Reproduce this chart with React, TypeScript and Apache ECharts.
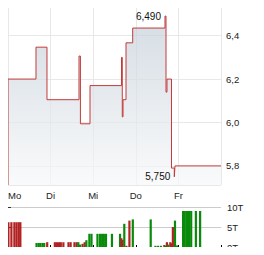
import React, { useEffect, useRef } from "react";
import * as echarts from "echarts";

// Price step series (x in trading days from Monday open, y price)
const priceTimes = [0, 0, 0.657, 0.915, 1.667, 1.70, 1.925, 2.664, 2.683, 2.70, 2.77, 2.927, 3.685, 3.709, 3.732, 3.838, 3.904, 3.92, 5.0];
const priceValues = [5.712, 6.2, 6.347, 6.105, 6.306, 5.994, 6.17, 6.30, 6.026, 6.105, 6.367, 6.435, 6.49, 6.14, 6.2, 5.79, 5.75, 5.8, 5.8];
const dayLabels = ["Mo", "Di", "Mi", "Do", "Fr", ""];
const maxPoint = { t: 3.685, v: 6.49, label: "6,490" };
const minPoint = { t: 3.904, v: 5.75, label: "5,750" };

// Volume bars (thousands), up = green, down = red
const volTimes = [0.01, 0.08, 0.15, 0.2, 0.25, 0.29, 0.67, 0.72, 0.76, 0.81, 0.85, 0.92, 1.1, 1.15, 1.2, 1.24, 1.3, 1.42, 1.47, 1.56, 1.61, 1.65, 1.69, 1.75, 1.8, 1.84, 1.91, 1.96, 2.1, 2.16, 2.21, 2.25, 2.3, 2.44, 2.63, 2.66, 2.69, 2.73, 2.78, 2.85, 2.93, 3.35, 3.46, 3.52, 3.59, 3.67, 3.69, 3.73, 3.76, 3.81, 3.85, 3.87, 3.92, 3.97, 4.11, 4.15, 4.2, 4.25, 4.3, 4.41, 4.51];
const volValues = [6.2, 6.2, 6.2, 6.2, 6.2, 6.2, 1, 1, 1, 1, 1, 1.2, 1.2, 1.2, 1.2, 1.2, 1.2, 1.2, 1.2, 1.2, 1.2, 1.2, 0.6, 0.8, 1.2, 1.7, 3.3, 3.3, 3.3, 3.3, 3.3, 3.3, 3.3, 3.3, 3.3, 2.2, 1.8, 5.8, 0.3, 6.6, 6.9, 6.9, 0.3, 0.3, 0.3, 0.5, 0.3, 1.2, 0.6, 1.2, 0.9, 5.0, 6.6, 0.4, 9, 9, 9, 9, 9, 9, 9];
const volUp = [0, 0, 0, 0, 0, 0, 1, 1, 1, 1, 1, 0, 0, 0, 0, 0, 0, 0, 0, 0, 0, 1, 1, 0, 0, 1, 1, 1, 1, 1, 1, 1, 1, 1, 1, 0, 0, 1, 0, 0, 1, 1, 1, 1, 1, 0, 1, 0, 1, 0, 0, 0, 1, 1, 1, 1, 1, 1, 1, 1, 1];
const volTicks = ["0T", "5T", "10T"];

const RED = "#c23b3b";
const GREEN = "#0a8a0a";
const BAR_RED = "#b22222";
const FONT = "Liberation Sans, Arial, sans-serif";

export default function App() {
  const ref = useRef<HTMLDivElement>(null);
  useEffect(() => {
    if (!ref.current) return;
    const chart = echarts.init(ref.current, undefined, { renderer: "svg" });
    const fmt = (v: number) => v.toFixed(1).replace(".", ",");
    chart.setOption({
      animation: false,
      textStyle: { fontFamily: FONT },
      grid: [
        { left: 8, top: 7, width: 213, height: 178 },
        { left: 8, top: 207, width: 213, height: 40 },
      ],
      xAxis: [
        {
          type: "value", gridIndex: 0, min: 0, max: 5, interval: 1,
          axisLine: { show: false }, axisTick: { show: false },
          splitLine: { show: true, lineStyle: { color: "#e8e8e8", width: 1 } },
          axisLabel: {
            color: "#222", fontSize: 9.5, margin: 5, fontFamily: FONT, alignMinLabel: "left",
            formatter: (v: number) => dayLabels[Math.round(v)] || "",
          },
        },
        {
          type: "value", gridIndex: 1, min: 0, max: 5, interval: 1, position: "top",
          axisLine: { show: true, lineStyle: { color: "#c8c8c8" } },
          axisTick: { show: true, length: 2, lineStyle: { color: "#000" } },
          splitLine: { show: false }, axisLabel: { show: false },
        },
      ],
      yAxis: [
        {
          type: "value", gridIndex: 0, position: "right", min: 5.712, max: 6.532, splitNumber: 5,
          axisLine: { show: false }, axisTick: { show: false },
          splitLine: { show: true, lineStyle: { color: "#e8e8e8", width: 1 } },
          axisLabel: {
            color: "#222", fontSize: 9.5, margin: 5, fontFamily: FONT, showMinLabel: false, showMaxLabel: false,
            formatter: (v: number) => (Math.abs(v * 5 - Math.round(v * 5)) < 1e-6 ? fmt(v) : ""),
          },
        },
        {
          type: "value", gridIndex: 1, position: "right", min: 0, max: 10, interval: 5,
          axisLine: { show: false },
          axisTick: { show: true, length: 3, lineStyle: { color: "#333" } },
          splitLine: { show: true, lineStyle: { color: "#cccccc", width: 1 } },
          axisLabel: {
            color: "#222", fontSize: 9.5, margin: 6, fontFamily: FONT,
            formatter: (v: number) => volTicks[Math.round(v / 5)] || "",
          },
        },
      ],
      series: [
        {
          type: "line", xAxisIndex: 0, yAxisIndex: 0, step: "end", symbol: "none",
          data: priceTimes.map((t, i) => [t, priceValues[i]]),
          lineStyle: { color: RED, width: 1 },
          areaStyle: {
            origin: "start",
            color: new echarts.graphic.LinearGradient(0, 0, 0, 1, [
              { offset: 0, color: "#c3ced8" },
              { offset: 1, color: "#f7f8f9" },
            ]),
          },
          markPoint: {
            symbol: "circle", symbolSize: 0,
            label: {
              show: true, position: "left", distance: 4, color: "#111", fontSize: 10, fontFamily: FONT,
              formatter: (p: any) => p.name,
            },
            data: [
              { name: maxPoint.label, coord: [maxPoint.t, maxPoint.v] },
              { name: minPoint.label, coord: [minPoint.t, minPoint.v] },
            ],
          },
        },
        {
          type: "bar", xAxisIndex: 1, yAxisIndex: 1, barWidth: 2.2,
          data: volTimes.map((t, i) => ({
            value: [t, volValues[i]],
            itemStyle: { color: volUp[i] ? GREEN : BAR_RED },
          })),
        },
      ],
    });
    return () => chart.dispose();
  }, []);
  return <div ref={ref} style={{ width: 264, height: 255, margin: -8 }} />;
}
